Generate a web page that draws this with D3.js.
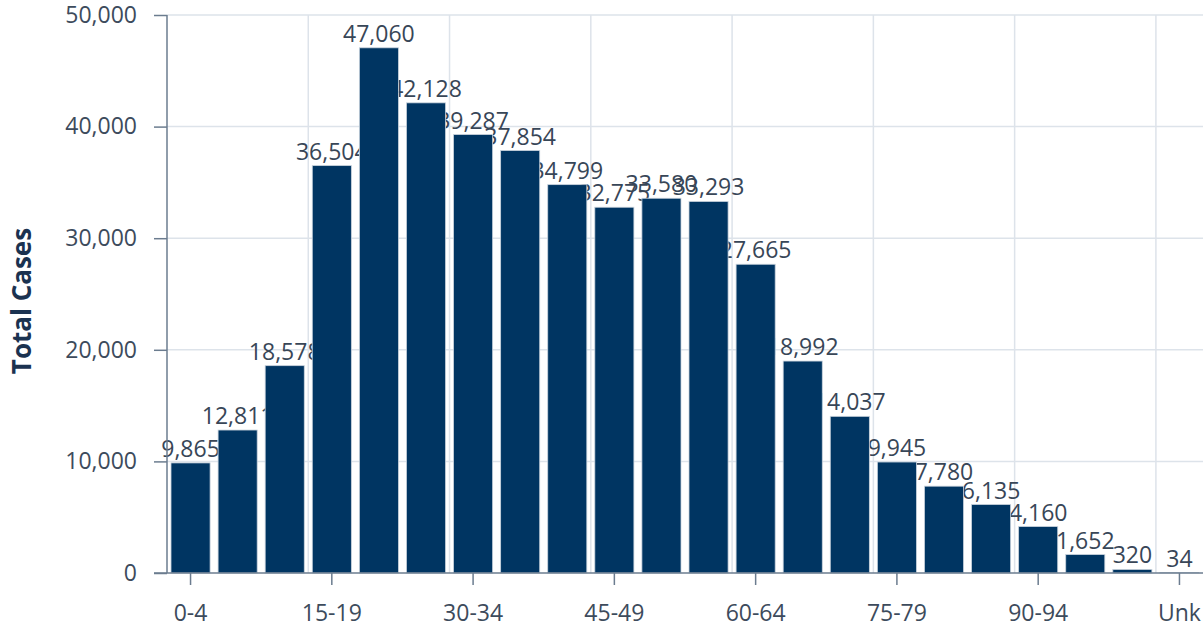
<!DOCTYPE html>
<html>
<head>
<meta charset="utf-8">
<script src="https://cdn.jsdelivr.net/npm/d3@7/dist/d3.min.js"></script>
<style>
  html, body { margin: 0; padding: 0; background: #ffffff; }
  svg { display: block; }
  text { font-family: "Open Sans", "Noto Sans", sans-serif; }
</style>
</head>
<body>
<svg id="chart" width="1204" height="630"></svg>
<script>
const categories = ["0-4","5-9","10-14","15-19","20-24","25-29","30-34","35-39","40-44","45-49","50-54","55-59","60-64","65-69","70-74","75-79","80-84","85-89","90-94","95-99","100+","Unk"];
const totalCases = [9865,12811,18578,36504,47060,42128,39287,37854,34799,32775,33580,33293,27665,18992,14037,9945,7780,6135,4160,1652,320,34];
const yTicks = [0,10000,20000,30000,40000,50000];
const yLabel = "Total Cases";

const svg = d3.select("#chart");
const mLeft = 167, mRight = 1203, mTop = 15, mBottom = 573;

const x = d3.scaleBand().domain(categories).range([mLeft, mRight]).paddingInner(0.17).paddingOuter(0.085);
const y = d3.scaleLinear().domain([0, 50000]).range([mBottom, mTop]);
const step = x.step();
const fmt = d3.format(",");

const gridColor = "#dde3ea";
const axisColor = "#6b7c8f";
const textColor = "#3d4b5c";

// horizontal grid
svg.append("g").selectAll("line").data(yTicks.filter(d => d > 0)).join("line")
  .attr("x1", mLeft).attr("x2", mRight)
  .attr("y1", d => y(d)).attr("y2", d => y(d))
  .attr("stroke", gridColor).attr("stroke-width", 1.5);

// vertical grid every 3 categories
const tickCats = categories.filter((c, i) => i % 3 === 0);
svg.append("g").selectAll("line").data(tickCats.filter((c, i) => i > 0)).join("line")
  .attr("x1", c => x(c) - x.paddingOuter() * step).attr("x2", c => x(c) - x.paddingOuter() * step)
  .attr("y1", mTop).attr("y2", mBottom)
  .attr("stroke", gridColor).attr("stroke-width", 1.5);

// data labels (under bars)
svg.append("g").selectAll("text").data(categories).join("text")
  .attr("x", c => x(c) + x.bandwidth() / 2)
  .attr("y", (c, i) => y(totalCases[i]) - 6)
  .attr("text-anchor", "middle")
  .attr("font-size", 23)
  .attr("fill", "#384657")
  .text((c, i) => fmt(totalCases[i]));

// bars
svg.append("g").selectAll("rect").data(categories).join("rect")
  .attr("x", c => x(c))
  .attr("width", x.bandwidth())
  .attr("y", (c, i) => y(totalCases[i]))
  .attr("height", (c, i) => mBottom - y(totalCases[i]))
  .attr("fill", "#003562")
  .attr("stroke", "#c9d3dd").attr("stroke-width", 0.8);

// y axis
const yAxis = d3.axisLeft(y).tickValues(yTicks).tickFormat(fmt).tickSize(13).tickPadding(17);
const gy = svg.append("g").attr("transform", `translate(${mLeft},0)`).call(yAxis);
gy.select(".domain").attr("stroke", axisColor).attr("stroke-width", 1.5).attr("d", `M0,${mTop}V${mBottom}`);
gy.selectAll(".tick line").attr("stroke", axisColor).attr("stroke-width", 1.5);
gy.selectAll(".tick text").attr("font-size", 23).attr("fill", textColor).attr("font-family", "Open Sans");

// x axis
const xAxis = d3.axisBottom(x).tickValues(tickCats).tickSize(12).tickPadding(20);
const gx = svg.append("g").attr("transform", `translate(0,${mBottom})`).call(xAxis);
gx.select(".domain").attr("stroke", axisColor).attr("stroke-width", 1.5).attr("d", `M${mLeft - 13},0H${mRight}`);
gx.selectAll(".tick line").attr("stroke", axisColor).attr("stroke-width", 1.5);
gx.selectAll(".tick text").attr("font-size", 23).attr("fill", textColor).attr("font-family", "Open Sans");

// y axis title
svg.append("text")
  .attr("transform", `translate(31,${(mTop + mBottom) / 2 + 7}) rotate(-90)`)
  .attr("text-anchor", "middle")
  .attr("font-family", "Liberation Sans, Arial, sans-serif")
  .attr("font-weight", "bold")
  .attr("font-size", 26)
  .attr("fill", "#1b3250")
  .text(yLabel);
</script>
</body>
</html>
